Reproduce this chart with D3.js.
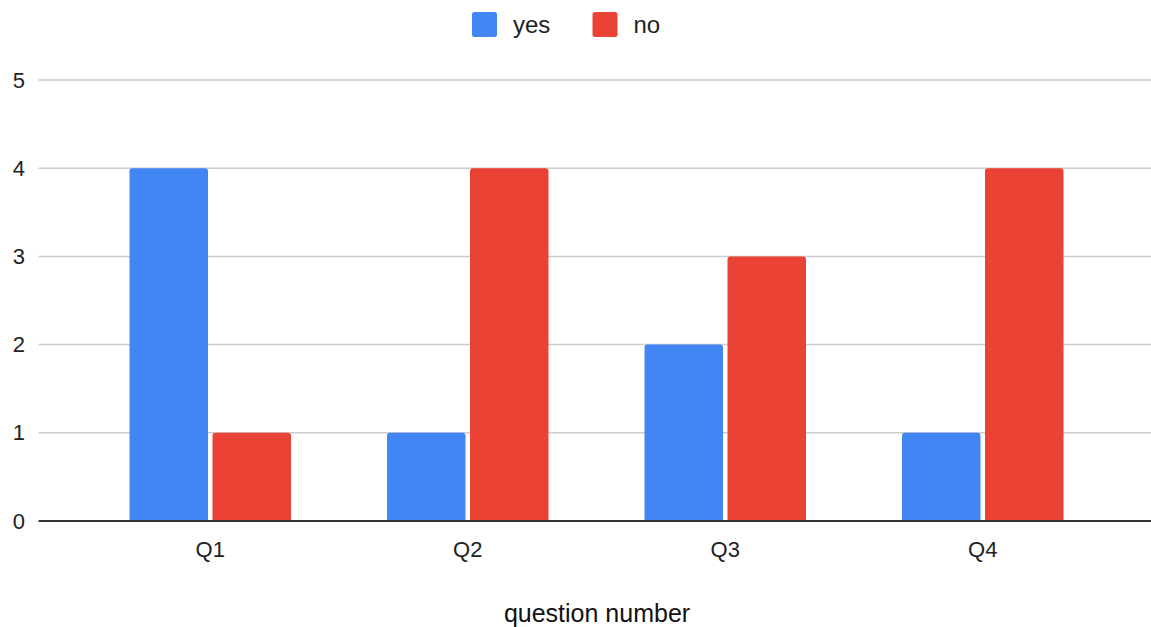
<!DOCTYPE html>
<html>
<head>
<meta charset="utf-8">
<script src="https://cdn.jsdelivr.net/npm/d3@7"></script>
<style>
  html, body { margin: 0; padding: 0; background: #fff; }
  svg { display: block; font-family: "Liberation Sans", Arial, sans-serif; }
</style>
</head>
<body>
<svg id="chart" width="1151" height="627"></svg>
<script>
const categories = ["Q1", "Q2", "Q3", "Q4"];
const seriesNames = ["yes", "no"];
const yesValues = [4, 1, 2, 1];
const noValues = [1, 4, 3, 4];
const yTicks = [0, 1, 2, 3, 4, 5];
const colors = { yes: "#4285F4", no: "#EA4335" };
const xTitle = "question number";

const svg = d3.select("#chart");
const W = 1151, H = 627;
const plotLeft = 38.5, plotRight = 1151, plotTop = 80, plotBottom = 521;

const y = d3.scaleLinear().domain([0, 5]).range([plotBottom, plotTop]);
const x = d3.scaleBand().domain(categories).range([81.5, 1111.5]).padding(0);
const groupW = 161.5;
const xs = d3.scaleBand().domain(seriesNames)
  .range([(x.bandwidth() - groupW) / 2, (x.bandwidth() + groupW) / 2])
  .paddingInner(4.5 / 83).paddingOuter(0);

// gridlines
svg.append("g").selectAll("line").data(yTicks.filter(d => d !== 0)).join("line")
  .attr("x1", plotLeft).attr("x2", plotRight)
  .attr("y1", d => y(d)).attr("y2", d => y(d))
  .attr("stroke", "#cccccc").attr("stroke-width", 1.5);

// y tick labels
svg.append("g").selectAll("text").data(yTicks).join("text")
  .attr("x", 25).attr("y", d => y(d))
  .attr("text-anchor", "end").attr("dominant-baseline", "central")
  .attr("font-size", 22).attr("fill", "#222")
  .text(d => d);

const data = categories.map((c, i) => ({ cat: c, yes: yesValues[i], no: noValues[i] }));

function barPath(x0, w, yTop, yBot, r) {
  r = Math.min(r, w / 2, yBot - yTop);
  return `M${x0},${yBot}V${yTop + r}Q${x0},${yTop} ${x0 + r},${yTop}H${x0 + w - r}Q${x0 + w},${yTop} ${x0 + w},${yTop + r}V${yBot}Z`;
}

const groups = svg.append("g").selectAll("g").data(data).join("g")
  .attr("transform", d => `translate(${x(d.cat)},0)`);

groups.selectAll("path").data(d => seriesNames.map(s => ({ s, v: d[s] }))).join("path")
  .attr("d", d => barPath(xs(d.s), xs.bandwidth(), y(d.v), y(0), 3))
  .attr("fill", d => colors[d.s]);

// baseline
svg.append("line")
  .attr("x1", plotLeft).attr("x2", plotRight)
  .attr("y1", y(0)).attr("y2", y(0))
  .attr("stroke", "#333333").attr("stroke-width", 2);

// x tick labels
svg.append("g").selectAll("text").data(categories).join("text")
  .attr("x", d => x(d) + x.bandwidth() / 2).attr("y", 556.5)
  .attr("text-anchor", "middle")
  .attr("font-size", 22).attr("fill", "#222")
  .text(d => d);

// x title
svg.append("text")
  .attr("x", 597).attr("y", 622)
  .attr("text-anchor", "middle")
  .attr("font-size", 25).attr("fill", "#111")
  .text(xTitle);

// legend
const legendItems = [
  { s: "yes", x: 472 },
  { s: "no", x: 592.5 }
];
const lg = svg.append("g").selectAll("g").data(legendItems).join("g")
  .attr("transform", d => `translate(${d.x},12)`);
lg.append("rect").attr("width", 25).attr("height", 25).attr("rx", 2.5)
  .attr("fill", d => colors[d.s]);
lg.append("text").attr("x", 41).attr("y", 21)
  .attr("font-size", 24).attr("fill", "#222")
  .text(d => d.s);
</script>
</body>
</html>
